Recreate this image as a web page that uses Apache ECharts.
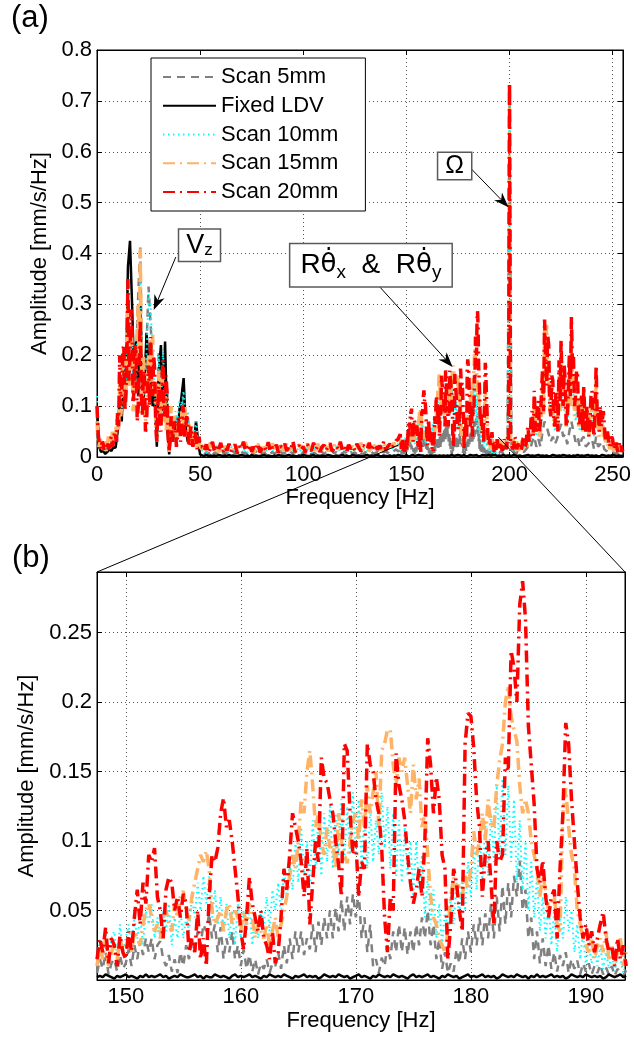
<!DOCTYPE html>
<html><head><meta charset="utf-8">
<script src="https://cdn.jsdelivr.net/npm/echarts@6.0.0/dist/echarts.min.js"></script>
<style>html,body{margin:0;padding:0;background:#fff}#c{width:634px;height:1039px}</style>
</head><body><div id="c"></div>
<script>
const seriesNames = ['Scan 5mm', 'Fixed LDV', 'Scan 10mm', 'Scan 15mm', 'Scan 20mm'];
const xTicksB = [150, 160, 170, 180, 190];

// ===== values in mm/s/Hz =====
const LOW_START = 0, MID_START = 51, ZOOM_START = 147.5, HIGH_START = 194;
const STEP_COARSE = 1, STEP_HALF = 0.5, STEP_ZOOM = 0.25;

// ---- Scan 5mm ----
const scan5Low = [ // 0..50 Hz, 1 Hz
.09,.02,.01,.015,.008,.015,.02,.02,.03,.025,
.06,.12,.08,.18,.1,.3,.17,.25,.13,.2,
.32,.415,.11,.15,.22,.335,.26,.18,.12,.03,
.21,.07,.2,.1,.14,.01,.07,.04,.08,.06,
.1,.09,.12,.06,.08,.04,.05,.04,.06,.03,
.01];
const scan5Mid = [ // 51..147 Hz, 1 Hz
.008,.005,.01,.006,.012,.004,.009,.007,.011,.005,
.008,.006,.01,.004,.009,.012,.006,.008,.005,.011,
.007,.009,.004,.01,.006,.008,.012,.005,.009,.007,
.011,.004,.008,.006,.01,.007,.009,.005,.012,.006,
.008,.01,.005,.009,.007,.011,.006,.008,.004,.01,
.007,.009,.012,.005,.008,.006,.01,.007,.011,.005,
.009,.006,.008,.012,.007,.01,.005,.009,.006,.011,
.008,.004,.01,.007,.009,.006,.012,.008,.005,.01,
.007,.009,.011,.006,.008,.01,.007,.012,.009,.011,
.008,.013,.01,.012,.015,.011,.014];
const scan5High = [ // 194..255 Hz, 1 Hz
.01,.008,.012,.006,.01,.015,
.7,
.01,.012,.006,.01,.008,.012,.01,.015,.02,
.015,.03,.04,.02,.035,.02,.05,.07,.06,.045,
.03,.04,.025,.035,.05,.065,.04,.045,.025,.05,
.07,.05,.03,.04,.02,.035,.04,.02,.025,.03,
.035,.015,.04,.02,.025,.03,.015,.012,.01,.008,
.01,.006,.008,.005,.007,.004];
const scan5Zoom = [ // 147.5..193.5 Hz, 0.25 Hz
.005,.015,
.008,.02,.004,.012, .015,.006,.018,.008, .012,.022,.01,.025, .015,.028,.018,.03, .02,.03,.015,.025,
.028,.015,.01,.018, .006,.015,.005,.02, .01,.025,.015,.03, .02,.035,.025,.04, .035,.048,.03,.04,
.02,.038,.015,.03, .02,.035,.015,.025, .01,.022,.008,.018, .006,.015,.004,.012, .008,.015,.005,.012,
.01,.02,.008,.025, .012,.03,.015,.035, .02,.035,.018,.03, .022,.04,.02,.042, .025,.045,.03,.05,
.03,.052,.035,.058, .035,.06,.04,.062, .045,.064,.03,.045, .02,.04,.01,.015, .005,.016,.01,.025,
.015,.035,.02,.04, .02,.038,.018,.035, .02,.04,.025,.045, .03,.05,.025,.04, .015,.03,.008,.02,
.005,.012,.006,.022, .012,.03,.015,.035, .02,.04,.025,.045, .025,.048,.03,.055, .03,.06,.035,.068,
.04,.07,.045,.075, .06,.086,.05,.065, .03,.045,.015,.035, .012,.03,.01,.025, .008,.02,.006,.018,
.01,.02,.005,.015, .008,.014,.004,.012, .006,.012,.004,.01, .005,.011,.004,.009, .004,.01,.003,.008,
.006,.003,.007];

// ---- Fixed LDV ----
const fixedLow = [
.1,.02,.01,.012,.006,.01,.015,.012,.02,.018,
.05,.1,.07,.2,.14,.374,.425,.3,.16,.227,
.12,.3,.1,.13,.244,.19,.15,.1,.14,.02,
.17,.22,.09,.227,.06,.005,.05,.03,.07,.05,
.09,.12,.155,.06,.03,.04,.05,.03,.07,.03,
.005];
const fixedMid = [
.003,.002,.004,.002,.003,.001,.003,.002,.004,.003,
.002,.003,.002,.004,.002,.003,.001,.002,.003,.004,
.003,.002,.003,.001,.004,.002,.003,.002,.002,.003,
.004,.002,.003,.002,.001,.003,.002,.004,.003,.002,
.002,.003,.004,.002,.003,.002,.001,.003,.002,.004,
.003,.002,.002,.003,.004,.001,.003,.002,.003,.002,
.002,.004,.003,.002,.001,.003,.002,.003,.004,.002,
.003,.001,.002,.004,.003,.002,.003,.002,.001,.003,
.004,.002,.003,.002,.003,.004,.002,.001,.003,.002,
.002,.003,.001,.003,.002,.004,.003];
const fixedHigh = [
.002,.003,.002,.004,.002,.003,
.003,
.002,.004,.003,.002,.003,.001,.002,.003,.004,
.002,.003,.002,.003,.004,.002,.003,.002,.003,.001,
.002,.004,.003,.002,.003,.002,.004,.003,.002,.003,
.001,.003,.002,.004,.002,.003,.002,.003,.004,.002,
.003,.002,.003,.001,.002,.004,.003,.002,.003,.002,
.004,.003,.002,.003,.002,.003];
const fixedZoom = [
.002,.003,.002,.004,.003,.002,.001,.003,.002,.003,
.004,.002,.003,.002,.001,.003,.002,.004,.002,.003,
.002,.003,.004,.002,.003,.001,.002,.003,.002,.004,
.003,.002,.002,.003,.004,.002,.003,.001,.003,.002,
.002,.004,.003,.002,.003,.002,.001,.003,.004,.002,
.003,.002,.003,.004,.002,.003,.002,.001,.003,.002,
.004,.003,.002,.003,.002,.004,.003,.002,.001,.003,
.002,.003,.004,.002,.003,.002,.003,.001,.002,.004,
.003,.002,.003,.002,.004,.003,.002,.003,.001,.002,
.003,.004,.002,.003,.002,.001,.003,.002,.004,.003,
.002,.003,.002,.004,.003,.002,.003,.002,.001,.003,
.004,.002,.003,.002,.003,.004,.002,.003,.002,.001,
.003,.002,.004,.003,.002,.003,.001,.002,.003,.004,
.002,.003,.002,.003,.004,.002,.003,.002,.003,.001,
.002,.004,.003,.002,.003,.002,.004,.003,.002,.003,
.001,.003,.002,.004,.002,.003,.002,.003,.004,.002,
.003,.002,.003,.001,.002,.004,.003,.002,.003,.002,
.004,.003,.002,.003,.002,.003,.001,.002,.004,.003,
.002,.003,.004,.002,.003];

// ---- Scan 10mm ----
const scan10Low = [
.12,.03,.015,.02,.01,.02,.03,.025,.04,.03,
.07,.14,.09,.2,.11,.33,.15,.24,.12,.18,
.27,.35,.1,.14,.2,.32,.3,.19,.13,.04,
.2,.08,.21,.11,.13,.015,.08,.05,.09,.07,
.11,.1,.13,.07,.09,.05,.06,.04,.07,.03,
.02];
const scan10Mid = [
.012,.018,.008,.015,.02,.01,.016,.022,.009,.014,
.019,.011,.017,.007,.021,.013,.016,.01,.018,.023,
.012,.015,.009,.02,.014,.017,.011,.019,.008,.016,
.021,.012,.018,.014,.01,.02,.015,.013,.022,.009,
.017,.012,.019,.016,.011,.021,.014,.018,.01,.015,
.02,.013,.017,.009,.022,.012,.016,.019,.011,.018,
.014,.02,.01,.017,.013,.021,.015,.012,.019,.016,
.009,.018,.014,.022,.011,.017,.02,.013,.016,.019,
.012,.021,.015,.018,.014,.02,.016,.023,.013,.019,
.017,.022,.015,.024,.02,.026,.028];
const scan10High = [
.02,.015,.02,.01,.025,.03,
.72,
.02,.025,.01,.02,.015,.02,.015,.03,.04,
.025,.05,.08,.04,.07,.04,.1,.16,.18,.12,
.08,.1,.05,.08,.12,.14,.09,.1,.06,.12,
.17,.12,.07,.1,.05,.08,.09,.05,.06,.07,
.09,.04,.1,.05,.06,.07,.04,.03,.025,.02,
.015,.02,.01,.02,.015,.01];
const scan10Zoom = [
.01,.03,
.015,.035,.01,.03, .035,.015,.04,.02, .03,.04,.02,.045, .03,.045,.025,.05, .04,.055,.03,.045,
.03,.05,.035,.055, .025,.045,.03,.05, .03,.045,.035,.06, .045,.07,.05,.075, .055,.075,.045,.065,
.04,.06,.035,.055, .03,.05,.025,.055, .03,.05,.035,.055, .025,.045,.03,.05, .04,.06,.035,.065,
.05,.07,.045,.08, .06,.085,.065,.1, .07,.11,.075,.1, .07,.115,.08,.12, .075,.12,.085,.125,
.08,.12,.09,.13, .085,.125,.09,.135, .09,.13,.08,.12, .08,.125,.085,.115, .09,.135,.095,.125,
.08,.12,.075,.115, .07,.11,.075,.1, .06,.1,.065,.09, .045,.075,.04,.065, .03,.055,.025,.05,
.035,.06,.04,.07, .045,.075,.05,.085, .06,.095,.065,.105, .07,.115,.075,.12, .085,.14,.09,.145,
.09,.14,.085,.13, .07,.115,.065,.1, .05,.085,.045,.075, .035,.06,.03,.055, .025,.05,.02,.045,
.03,.06,.035,.05, .02,.04,.015,.035, .01,.025,.012,.022, .01,.025,.008,.02, .008,.02,.006,.018,
.015,.005,.012];

// ---- Scan 15mm ----
const scan15Low = [ // 0..50 Hz, 0.5 Hz
.07,.03, .02,.035, .03,.015, .01,.03, .025,.012, .02,.04, .035,.02, .03,.05, .05,.03, .04,.07,
.08,.05, .15,.08, .1,.18, .19,.1, .13,.24, .3,.14, .16,.26, .22,.09, .11,.19, .17,.25,
.3,.2, .41,.18, .12,.2, .16,.07, .08,.15, .2,.12, .23,.15, .24,.13, .15,.07, .03,.11,
.17,.09, .07,.14, .16,.07, .12,.05, .09,.03, .01,.06, .1,.04, .04,.08, .07,.03, .03,.07,
.07,.04, .09,.05, .06,.1, .1,.04, .05,.07, .04,.02, .06,.03, .03,.05, .04,.02, .025,.035,
.02];
const scan15Mid = [
.015,.025,.01,.02,.028,.012,.018,.024,.009,.021,
.016,.027,.011,.019,.023,.013,.026,.01,.018,.022,
.014,.029,.012,.017,.024,.008,.02,.026,.015,.019,
.011,.025,.018,.013,.027,.016,.021,.009,.023,.017,
.012,.028,.019,.014,.025,.011,.02,.024,.016,.022,
.01,.027,.015,.019,.023,.012,.026,.017,.02,.014,
.028,.011,.021,.018,.024,.013,.02,.027,.015,.019,
.01,.023,.017,.025,.012,.021,.016,.028,.014,.02,
.024,.011,.019,.026,.015,.022,.018,.013,.027,.02,
.016,.024,.021,.028,.018,.03,.035];
const scan15High = [ // 194..255 Hz, 0.5 Hz
.03,.015, .02,.035, .025,.01, .015,.03, .03,.02, .035,.025,
.73,.02,
.025,.035, .03,.01, .015,.03, .025,.012, .02,.035, .03,.015, .02,.04, .035,.02, .05,.03,
.03,.06, .07,.04, .1,.05, .06,.09, .09,.04, .05,.11, .14,.08, .25,.18, .26,.15, .18,.09,
.1,.14, .13,.06, .07,.11, .1,.05, .16,.09, .2,.12, .12,.16, .13,.06, .08,.12, .17,.1,
.24,.15, .16,.08, .1,.15, .13,.06, .07,.1, .1,.05, .12,.07, .06,.09, .08,.04, .09,.11,
.11,.05, .05,.09, .15,.07, .07,.04, .08,.05, .09,.04, .05,.025, .04,.02, .03,.015, .025,.035,
.02,.01, .03,.015, .015,.025, .025,.01, .02,.012,
.01];
const scan15Zoom = [
.01,.025,
.015,.03,.01,.02, .025,.015,.03,.02, .025,.03,.02,.035, .03,.025,.04,.05, .055,.045,.035,.04,
.03,.045,.05,.04, .035,.055,.045,.06, .064,.05,.043,.06, .07,.08,.09,.085, .093,.08,.05,.04,
.045,.05,.035,.05, .055,.04,.05,.045, .035,.05,.04,.055, .045,.03,.04,.035, .03,.04,.025,.035,
.045,.03,.04,.05, .06,.075,.09,.08, .1,.13,.12,.15, .165,.14,.11,.12, .1,.09,.11,.095,
.1,.08,.12,.1, .09,.084,.1,.115, .12,.1,.13,.11, .14,.12,.135,.15, .11,.165,.17,.18,
.18,.155,.14,.16, .15,.16,.14,.12, .155,.13,.145,.11, .12,.09,.06,.045, .04,.03,.025,.02,
.035,.06,.074,.065, .07,.06,.075,.065, .08,.107,.09,.1, .12,.1,.13,.11, .11,.14,.158,.17,
.2,.212,.19,.18, .172,.14,.12,.13, .12,.1,.09,.08, .06,.075,.065,.05, .055,.06,.04,.035,
.12,.138,.11,.09, .08,.05,.04,.03, .025,.02,.03,.015, .025,.03,.02,.035, .015,.025,.01,.02,
.03,.01,.02];

// ---- Scan 20mm ----
const scan20Low = [ // 0..50 Hz, 0.5 Hz
.1,.05, .03,.02, .015,.03, .025,.012, .01,.025, .03,.015, .02,.035, .04,.02, .03,.05, .05,.03,
.09,.06, .2,.1, .13,.21, .22,.09, .12,.2, .35,.15, .2,.29, .26,.11, .13,.22, .19,.07,
.1,.2, .27,.12, .08,.17, .15,.05, .06,.14, .18,.1, .236,.13, .12,.2, .17,.06, .03,.1,
.14,.06, .05,.15, .19,.08, .09,.16, .12,.04, .01,.05, .08,.03, .03,.07, .06,.02, .02,.06,
.08,.03, .05,.1, .09,.04, .04,.08, .07,.02, .03,.06, .06,.02, .02,.05, .05,.015, .03,.04,
.02];
const scan20Mid = [
.02,.012,.025,.008,.018,.03,.01,.022,.015,.028,
.009,.02,.013,.026,.011,.019,.024,.007,.021,.016,
.03,.012,.018,.025,.01,.02,.014,.027,.009,.017,
.022,.013,.029,.011,.019,.015,.024,.008,.021,.018,
.026,.012,.02,.016,.031,.01,.018,.023,.014,.02,
.009,.025,.017,.012,.028,.015,.021,.01,.019,.024,
.013,.02,.027,.011,.017,.022,.015,.03,.012,.019,
.009,.024,.016,.021,.013,.026,.018,.011,.023,.02,
.015,.028,.012,.019,.025,.014,.022,.017,.03,.013,
.021,.026,.018,.024,.032,.035,.045];
const scan20High = [ // 194..255 Hz, 0.5 Hz
.035,.02, .015,.03, .03,.012, .02,.035, .025,.015, .04,.03,
.735,.03,
.03,.015, .02,.04, .035,.015, .015,.03, .03,.012, .02,.035, .04,.02, .025,.05, .06,.03,
.04,.08, .09,.04, .13,.07, .05,.1, .11,.05, .07,.13, .17,.09, .27,.2, .14,.24, .22,.1,
.08,.16, .15,.07, .06,.13, .12,.05, .19,.11, .23,.14, .1,.18, .15,.06, .07,.13, .2,.12,
.275,.18, .2,.1, .12,.17, .16,.07, .06,.11, .12,.05, .14,.08, .05,.1, .1,.04, .07,.12,
.13,.06, .04,.1, .18,.08, .09,.05, .1,.06, .06,.09, .09,.03, .03,.05, .05,.02, .02,.04,
.035,.015, .015,.03, .03,.01, .02,.03, .025,.01,
.015];
const scan20Zoom = [
.015,.03,
.02,.038,.012,.03, .025,.01,.032,.02, .015,.035,.02,.045, .065,.04,.07,.055, .09,.085,.095,.06,
.05,.03,.065,.074, .07,.05,.06,.045, .062,.055,.02,.03, .02,.05,.015,.03, .01,.06,.09,.085,
.095,.12,.131,.11, .115,.1,.08,.06, .035,.022,.045,.074, .055,.045,.035,.05, .03,.025,.015,.035,
.012,.02,.045,.08, .065,.09,.12,.11, .1,.085,.06,.095, .04,.07,.1,.085, .16,.145,.142,.13,
.12,.1,.083,.06, .17,.165,.12,.09, .1,.06,.085,.08, .17,.155,.15,.13, .12,.095,.045,.02,
.06,.05,.163,.14, .13,.115,.09,.07, .055,.065,.08,.06, .1,.174,.155,.12, .146,.13,.09,.08,
.015,.04,.08,.07, .05,.035,.17,.192, .19,.167,.13,.11, .06,.09,.1,.07, .04,.1,.085,.09,
.16,.15,.237,.225, .2,.27,.287,.26, .183,.155,.127,.08, .07,.086,.06,.045, .06,.065,.03,.08,
.12,.185,.17,.13, .1,.07,.045,.03, .04,.025,.035,.02, .03,.04,.049,.03, .02,.025,.01,.03,
.015,.025,.01];

// segments for panel (a): [startHz, stepHz, values]
const segmentsA = {
  'Scan 5mm':  [[LOW_START, STEP_COARSE, scan5Low],  [MID_START, STEP_COARSE, scan5Mid],  [ZOOM_START, STEP_ZOOM, scan5Zoom],  [HIGH_START, STEP_COARSE, scan5High]],
  'Fixed LDV': [[LOW_START, STEP_COARSE, fixedLow],  [MID_START, STEP_COARSE, fixedMid],  [ZOOM_START, STEP_ZOOM, fixedZoom],  [HIGH_START, STEP_COARSE, fixedHigh]],
  'Scan 10mm': [[LOW_START, STEP_COARSE, scan10Low], [MID_START, STEP_COARSE, scan10Mid], [ZOOM_START, STEP_ZOOM, scan10Zoom], [HIGH_START, STEP_COARSE, scan10High]],
  'Scan 15mm': [[LOW_START, STEP_HALF, scan15Low],   [MID_START, STEP_COARSE, scan15Mid], [ZOOM_START, STEP_ZOOM, scan15Zoom], [HIGH_START, STEP_HALF, scan15High]],
  'Scan 20mm': [[LOW_START, STEP_HALF, scan20Low],   [MID_START, STEP_COARSE, scan20Mid], [ZOOM_START, STEP_ZOOM, scan20Zoom], [HIGH_START, STEP_HALF, scan20High]]
};
const zoomB = {'Scan 5mm': scan5Zoom, 'Fixed LDV': fixedZoom, 'Scan 10mm': scan10Zoom, 'Scan 15mm': scan15Zoom, 'Scan 20mm': scan20Zoom};

// ---- annotation anchors in data units of panel (a) ----
const noteOmega = {box: [173.4, 0.572], from: [181.3, 0.567], to: [199.5, 0.491]};
const noteVz = {box: [49.7, 0.416], from: [38.2, 0.393], to: [27.5, 0.289]};
const noteRtheta = {box: [132.8, 0.377], from: [136.7, 0.336], to: [172.4, 0.177]};
const zoomFromA = [[146.3, 0.0236], [194.6, 0.039]];
const zoomToB = [[147.5, 0.2936], [193.4, 0.2936]];

const FONT = '"Liberation Sans", Arial, sans-serif';
const styles = {
  'Scan 5mm':  {color: '#808080', width: 2.5, type: [8, 6]},
  'Fixed LDV': {color: '#000000', width: 2.5, type: 'solid'},
  'Scan 10mm': {color: '#00FFFF', width: 2,   type: [1.5, 3.5]},
  'Scan 15mm': {color: '#FFB366', width: 3.5, type: [12, 5, 2, 5]},
  'Scan 20mm': {color: '#FF0000', width: 3.5, type: [12, 5, 2, 5]}
};

function toPairs(segs) {
  const out = [];
  segs.forEach(([start, step, vals]) => vals.forEach((v, i) => out.push([start + i * step, v])));
  return out;
}
function mkSeries(name, data, axisIdx) {
  const s = styles[name];
  return {
    name, type: 'line', xAxisIndex: axisIdx, yAxisIndex: axisIdx, data,
    symbol: 'none', showSymbol: false, animation: false, silent: true, clip: true,
    lineStyle: {color: s.color, width: s.width, type: s.type},
    itemStyle: {color: s.color}, emphasis: {disabled: true}
  };
}
const series = [];
seriesNames.forEach(n => series.push(mkSeries(n, toPairs(segmentsA[n]), 0)));
seriesNames.forEach(n => series.push(mkSeries(n, toPairs([[ZOOM_START, STEP_ZOOM, zoomB[n]]]), 2)));

const lblStyle = {fontFamily: FONT, fontSize: 22, color: '#000'};
const splitStyle = {show: true, lineStyle: {color: '#555', width: 1, type: [1, 3]}};
const axLine = {show: true, onZero: false, lineStyle: {color: '#000', width: 1}};
const tick = {show: true, inside: true, length: 5, lineStyle: {color: '#000'}};

const option = {
  backgroundColor: '#fff',
  animation: false,
  grid: [
    {left: 97, top: 50, width: 528, height: 407, show: true, borderColor: '#000', borderWidth: 1, backgroundColor: 'transparent'},
    {left: 97, top: 572, width: 528, height: 408, show: true, borderColor: '#000', borderWidth: 1, backgroundColor: 'transparent'}
  ],
  xAxis: [
    {gridIndex: 0, type: 'value', min: 0, max: 255, interval: 50, position: 'bottom',
     axisLine: axLine, axisTick: tick, splitLine: splitStyle,
     axisLabel: Object.assign({margin: 7, showMaxLabel: false}, lblStyle),
     name: 'Frequency [Hz]', nameLocation: 'middle', nameGap: 29, nameTextStyle: lblStyle},
    {gridIndex: 0, type: 'value', min: 0, max: 255, interval: 50, position: 'top',
     axisLine: axLine, axisTick: tick, splitLine: {show: false}, axisLabel: {show: false}},
    {gridIndex: 1, type: 'value', min: 147.5, max: 193.4, position: 'bottom',
     axisLine: axLine, axisTick: Object.assign({customValues: xTicksB}, tick), splitLine: splitStyle,
     axisLabel: Object.assign({margin: 6, customValues: xTicksB}, lblStyle),
     name: 'Frequency [Hz]', nameLocation: 'middle', nameGap: 30, nameTextStyle: lblStyle},
    {gridIndex: 1, type: 'value', min: 147.5, max: 193.4, position: 'top',
     axisLine: axLine, axisTick: Object.assign({customValues: xTicksB}, tick), splitLine: {show: false}, axisLabel: {show: false}}
  ],
  yAxis: [
    {gridIndex: 0, type: 'value', min: 0, max: 0.8, interval: 0.1, position: 'left',
     axisLine: axLine, axisTick: tick, splitLine: splitStyle,
     axisLabel: Object.assign({margin: 5}, lblStyle),
     name: 'Amplitude [mm/s/Hz]', nameLocation: 'middle', nameGap: 40, nameTextStyle: lblStyle},
    {gridIndex: 0, type: 'value', min: 0, max: 0.8, interval: 0.1, position: 'right',
     axisLine: axLine, axisTick: tick, splitLine: {show: false}, axisLabel: {show: false}},
    {gridIndex: 1, type: 'value', min: 0, max: 0.2936, interval: 0.05, position: 'left',
     axisLine: axLine, axisTick: tick, splitLine: splitStyle,
     axisLabel: Object.assign({margin: 5, showMinLabel: false, showMaxLabel: false}, lblStyle),
     name: 'Amplitude [mm/s/Hz]', nameLocation: 'middle', nameGap: 50, nameTextStyle: lblStyle},
    {gridIndex: 1, type: 'value', min: 0, max: 0.2936, interval: 0.05, position: 'right',
     axisLine: axLine, axisTick: tick, splitLine: {show: false}, axisLabel: {show: false}}
  ],
  legend: {
    data: seriesNames, orient: 'vertical', left: 151, top: 58,
    backgroundColor: '#fff', borderColor: '#000', borderWidth: 1,
    padding: [8, 27, 8, 11], itemWidth: 53, itemHeight: 12, itemGap: 6.75,
    itemStyle: {opacity: 0, borderWidth: 0},
    textStyle: {fontFamily: FONT, fontSize: 22, color: '#000'},
    selectedMode: false, z: 10
  },
  series
};

const chart = echarts.init(document.getElementById('c'), null, {renderer: 'canvas'});
chart.setOption(option);

function px(grid, p) { return chart.convertToPixel({gridIndex: grid}, p); }
function arrow(fromD, toD) {
  const p1 = px(0, fromD), p2 = px(0, toD);
  const dx = p2[0] - p1[0], dy = p2[1] - p1[1], L = Math.hypot(dx, dy);
  const ux = dx / L, uy = dy / L, nx = -uy, ny = ux;
  const len = 15, hw = 5.5;
  const bx = p2[0] - ux * len, by = p2[1] - uy * len;
  const mx = p2[0] - ux * len * 0.7, my = p2[1] - uy * len * 0.7;
  return [
    {type: 'line', z: 20, silent: true, shape: {x1: p1[0], y1: p1[1], x2: mx, y2: my}, style: {stroke: '#000', lineWidth: 1}},
    {type: 'polygon', z: 20, silent: true, shape: {points: [p2, [bx + nx * hw, by + ny * hw], [mx, my], [bx - nx * hw, by - ny * hw]]}, style: {fill: '#000'}}
  ];
}
function box(at, text, rich, pad) {
  const p = px(0, at);
  return {type: 'text', z: 21, silent: true, x: p[0], y: p[1],
    style: {text, rich, align: 'center', verticalAlign: 'middle', fill: '#000',
      backgroundColor: '#fff', borderColor: '#5a5a5a', borderWidth: 1.5, padding: pad}};
}
const richMain = (fs, lh, fam) => ({fontFamily: fam || FONT, fontSize: fs, lineHeight: lh, fill: '#000'});
const richSub = (fs) => ({fontFamily: FONT, fontSize: fs, lineHeight: fs, verticalAlign: 'bottom', fill: '#000'});
const graphics = [];
graphics.push(box(noteOmega.box, '{v|Ω}', {v: richMain(25, 22)}, [2, 7, 2, 7]));
graphics.push(...arrow(noteOmega.from, noteOmega.to));
graphics.push(box(noteVz.box, '{v|V}{s|z}', {v: richMain(27, 27), s: richSub(17)}, [2, 7, 2, 7]));
graphics.push(...arrow(noteVz.from, noteVz.to));
graphics.push(box(noteRtheta.box, '{v|R}{t|θ̇}{s|x}{v|  &  R}{t|θ̇}{s|y}',
  {v: richMain(28, 34), t: richMain(26, 34, '"DejaVu Sans", sans-serif'), s: richSub(19)}, [4, 10, 4, 10]));
graphics.push(...arrow(noteRtheta.from, noteRtheta.to));
for (let k = 0; k < 2; k++) {
  const a = px(0, zoomFromA[k]), b = px(1, zoomToB[k]);
  graphics.push({type: 'line', z: 20, silent: true, shape: {x1: a[0], y1: a[1], x2: b[0], y2: b[1]}, style: {stroke: '#000', lineWidth: 1}});
}
graphics.push({type: 'text', left: 11, top: 3, z: 21, style: {text: '(a)', font: '31px ' + FONT, fill: '#000'}});
graphics.push({type: 'text', left: 12, top: 543, z: 21, style: {text: '(b)', font: '31px ' + FONT, fill: '#000'}});
chart.setOption({graphic: graphics});
</script>
</body></html>
